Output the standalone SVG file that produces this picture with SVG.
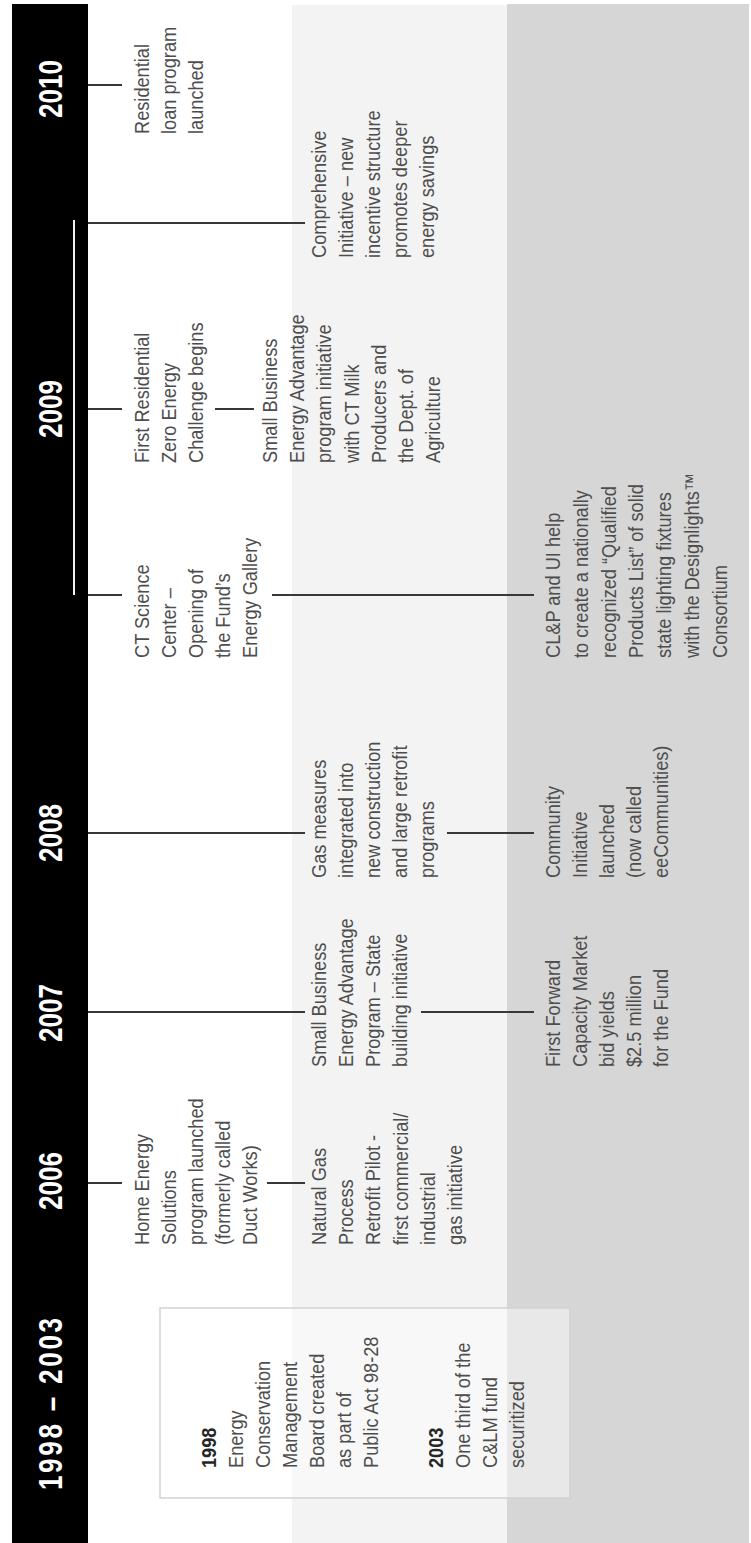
<svg xmlns="http://www.w3.org/2000/svg" width="751" height="1543" viewBox="0 0 751 1543">
<style>
.t{font-family:"Liberation Sans",Arial,sans-serif;font-size:20px;fill:#4d4d4d}
.b{font-family:"Liberation Sans",Arial,sans-serif;font-size:20px;font-weight:bold;fill:#262626}
.y{font-family:"Liberation Sans",Arial,sans-serif;font-size:33px;font-weight:bold;fill:#ffffff;text-anchor:middle}
.c line{stroke:#383838;stroke-width:2}
</style>
<rect x="0" y="0" width="751" height="1543" fill="#ffffff"/>
<g id="bands">
<rect x="12" y="4" width="76" height="1539" fill="#000000"/>
<rect x="292" y="5" width="215" height="1538" fill="#f3f3f3"/>
<rect x="507" y="4" width="242" height="1539" fill="#d6d6d6"/>
</g>
<g class="c" id="connectors">
<line x1="74" y1="220" x2="74" y2="595" style="stroke:#f2f2f2;stroke-width:2"/>
<line x1="88" y1="85" x2="122" y2="85"/>
<line x1="88" y1="223" x2="305" y2="223"/>
<line x1="88" y1="409" x2="122" y2="409"/>
<line x1="215" y1="409" x2="254" y2="409"/>
<line x1="88" y1="595" x2="122" y2="595"/>
<line x1="272" y1="595" x2="534" y2="595"/>
<line x1="88" y1="833" x2="305" y2="833"/>
<line x1="447" y1="833" x2="534" y2="833"/>
<line x1="88" y1="1012" x2="305" y2="1012"/>
<line x1="421" y1="1012" x2="534" y2="1012"/>
<line x1="88" y1="1183" x2="122" y2="1183"/>
<line x1="267" y1="1183" x2="305" y2="1183"/>
</g>
<g id="years">
<text class="y" transform="translate(62,89) rotate(-90) scale(0.79,1)">2010</text>
<text class="y" transform="translate(62,409) rotate(-90) scale(0.79,1)">2009</text>
<text class="y" transform="translate(62,833) rotate(-90) scale(0.79,1)">2008</text>
<text class="y" transform="translate(62,1013) rotate(-90) scale(0.79,1)">2007</text>
<text class="y" transform="translate(62,1181) rotate(-90) scale(0.79,1)">2006</text>
<text class="y" transform="translate(62,1404) rotate(-90) scale(0.79,1)" textLength="218" lengthAdjust="spacing">1998 – 2003</text>
</g>
<g id="n2010-loan">
<text class="t" transform="translate(149,134) rotate(-90) scale(0.91,1)"><tspan x="0" y="0">Residential</tspan><tspan x="0" y="27">loan program</tspan><tspan x="0" y="54">launched</tspan></text>
</g>
<g id="n2010-comprehensive">
<text class="t" transform="translate(326,258) rotate(-90) scale(0.91,1)"><tspan x="0" y="0">Comprehensive</tspan><tspan x="0" y="27">Initiative – new</tspan><tspan x="0" y="54">incentive structure</tspan><tspan x="0" y="81">promotes deeper</tspan><tspan x="0" y="108">energy savings</tspan></text>
</g>
<g id="n2009-zero">
<text class="t" transform="translate(149,463) rotate(-90) scale(0.91,1)"><tspan x="0" y="0">First Residential</tspan><tspan x="0" y="27">Zero Energy</tspan><tspan x="0" y="54">Challenge begins</tspan></text>
</g>
<g id="n2009-milk">
<text class="t" transform="translate(277,463) rotate(-90) scale(0.91,1)"><tspan x="0" y="0">Small Business</tspan><tspan x="0" y="27.2">Energy Advantage</tspan><tspan x="0" y="54.4">program initiative</tspan><tspan x="0" y="81.6">with CT Milk</tspan><tspan x="0" y="108.8">Producers and</tspan><tspan x="0" y="136">the Dept. of</tspan><tspan x="0" y="163.2">Agriculture</tspan></text>
</g>
<g id="n2009-science">
<text class="t" transform="translate(149,658) rotate(-90) scale(0.91,1)"><tspan x="0" y="0">CT Science</tspan><tspan x="0" y="27">Center –</tspan><tspan x="0" y="54">Opening of</tspan><tspan x="0" y="81">the Fund’s</tspan><tspan x="0" y="108">Energy Gallery</tspan></text>
</g>
<g id="n2009-lighting">
<text class="t" transform="translate(560,658) rotate(-90) scale(0.91,1)"><tspan x="0" y="0">CL&amp;P and UI help</tspan><tspan x="0" y="27.8">to create a nationally</tspan><tspan x="0" y="55.6">recognized “Qualified</tspan><tspan x="0" y="83.4">Products List” of solid</tspan><tspan x="0" y="111.2">state lighting fixtures</tspan><tspan x="0" y="139">with the Designlights™</tspan><tspan x="0" y="166.8">Consortium</tspan></text>
</g>
<g id="n2008-gas">
<text class="t" transform="translate(326,878) rotate(-90) scale(0.91,1)"><tspan x="0" y="0">Gas measures</tspan><tspan x="0" y="27">integrated into</tspan><tspan x="0" y="54">new construction</tspan><tspan x="0" y="81">and large retrofit</tspan><tspan x="0" y="108">programs</tspan></text>
</g>
<g id="n2008-community">
<text class="t" transform="translate(560,878) rotate(-90) scale(0.91,1)"><tspan x="0" y="0">Community</tspan><tspan x="0" y="27">Initiative</tspan><tspan x="0" y="54">launched</tspan><tspan x="0" y="81">(now called</tspan><tspan x="0" y="108">eeCommunities)</tspan></text>
</g>
<g id="n2007-state">
<text class="t" transform="translate(326,1067) rotate(-90) scale(0.91,1)"><tspan x="0" y="0">Small Business</tspan><tspan x="0" y="27">Energy Advantage</tspan><tspan x="0" y="54">Program – State</tspan><tspan x="0" y="81">building initiative</tspan></text>
</g>
<g id="n2007-capacity">
<text class="t" transform="translate(560,1067) rotate(-90) scale(0.91,1)"><tspan x="0" y="0">First Forward</tspan><tspan x="0" y="27">Capacity Market</tspan><tspan x="0" y="54">bid yields</tspan><tspan x="0" y="81">$2.5 million</tspan><tspan x="0" y="108">for the Fund</tspan></text>
</g>
<g id="n2006-home">
<text class="t" transform="translate(149,1245) rotate(-90) scale(0.91,1)"><tspan x="0" y="0">Home Energy</tspan><tspan x="0" y="27">Solutions</tspan><tspan x="0" y="54">program launched</tspan><tspan x="0" y="81">(formerly called</tspan><tspan x="0" y="108">Duct Works)</tspan></text>
</g>
<g id="n2006-gas">
<text class="t" transform="translate(326,1245) rotate(-90) scale(0.91,1)"><tspan x="0" y="0">Natural Gas</tspan><tspan x="0" y="27.2">Process</tspan><tspan x="0" y="54.4">Retrofit Pilot -</tspan><tspan x="0" y="81.6">first commercial/</tspan><tspan x="0" y="108.8">industrial</tspan><tspan x="0" y="136">gas initiative</tspan></text>
</g>
<g id="n1998-2003">
<rect x="160" y="1308" width="410" height="190" fill="#ffffff" fill-opacity="0.45" stroke="#d2d2d2" stroke-width="1.5"/>
<text transform="translate(216,1468) rotate(-90) scale(0.91,1)"><tspan class="b" x="0" y="0">1998</tspan><tspan class="t" x="0" y="27">Energy</tspan><tspan class="t" x="0" y="54">Conservation</tspan><tspan class="t" x="0" y="81">Management</tspan><tspan class="t" x="0" y="108">Board created</tspan><tspan class="t" x="0" y="135">as part of</tspan><tspan class="t" x="0" y="162">Public Act 98-28</tspan><tspan class="b" x="0" y="227">2003</tspan><tspan class="t" x="0" y="254">One third of the</tspan><tspan class="t" x="0" y="281">C&amp;LM fund</tspan><tspan class="t" x="0" y="308">securitized</tspan></text>
</g>
</svg>
